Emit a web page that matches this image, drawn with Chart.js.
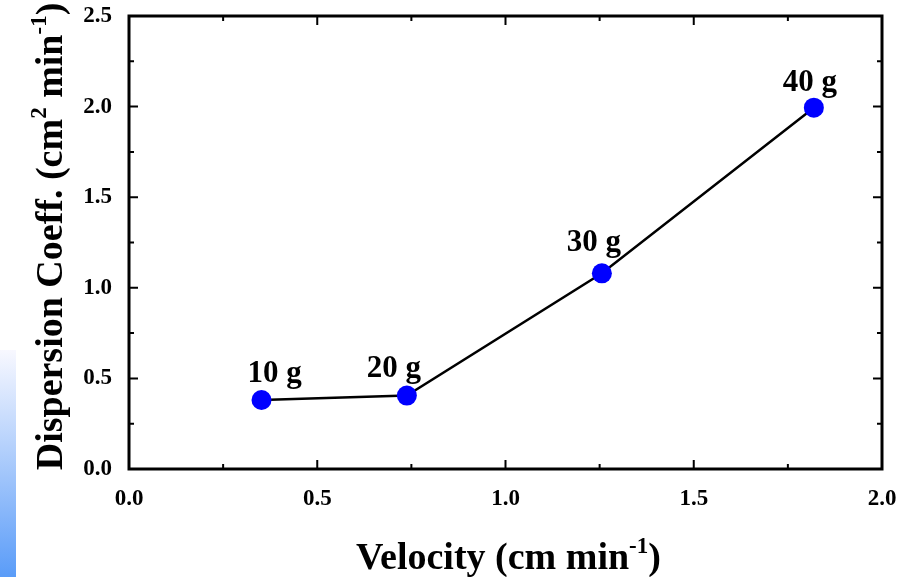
<!DOCTYPE html>
<html>
<head>
<meta charset="utf-8">
<script src="https://cdn.jsdelivr.net/npm/chart.js@4.4.0/dist/chart.umd.min.js"></script>
<style>
    html, body { margin: 0; padding: 0; background: #fff; }
    #wrap { position: relative; width: 897px; height: 577px; overflow: hidden; }
    #strip { position: absolute; left: 0; top: 350px; width: 16px; height: 227px;
             background: linear-gradient(to bottom, #f8f8ff, #5a9cf8); }
    #c { position: absolute; left: 0; top: 0; }
</style>
</head>
<body>
<div id="wrap">
    <div id="strip"></div>
    <canvas id="c" width="897" height="577"></canvas>
</div>
<script>
// data
const sampleLabels = ['10 g', '20 g', '30 g', '40 g'];
const velocity = [0.352, 0.738, 1.256, 1.819];
const dispersion = [0.381, 0.405, 1.080, 1.994];
const xTicks = [0, 0.5, 1.0, 1.5, 2.0];
const yTicks = [0, 0.5, 1.0, 1.5, 2.0, 2.5];

const serif = "'Liberation Serif', 'Times New Roman', serif";

// label placement relative to each point (px): [dx, dy]
const labelShift = [[13, -18], [-13, -19], [-8, -22], [-4, -17]];

// draw text with superscript pieces, parts = [[text, isSup], ...]
function drawRich(ctx, parts, cx, baseY, size) {
    const supSize = Math.round(size * 0.6);
    let total = 0;
    parts.forEach(p => {
        ctx.font = 'bold ' + (p[1] ? supSize : size) + 'px ' + serif;
        total += ctx.measureText(p[0]).width;
    });
    let x = cx - total / 2;
    ctx.textAlign = 'left';
    ctx.textBaseline = 'alphabetic';
    parts.forEach(p => {
        ctx.font = 'bold ' + (p[1] ? supSize : size) + 'px ' + serif;
        ctx.fillText(p[0], x, p[1] ? baseY - size * 0.42 : baseY);
        x += ctx.measureText(p[0]).width;
    });
}

const framePlugin = {
    id: 'frame',
    afterDatasetsDraw(chart) {
        const { ctx, chartArea: a, scales: { x, y } } = chart;
        ctx.save();
        ctx.strokeStyle = '#000';
        // minor + major ticks, pointing inward on all four sides
        ctx.lineWidth = 2;
        ctx.beginPath();
        for (let v = 0; v <= 2.0001; v += 0.25) {
            const px = x.getPixelForValue(v);
            const len = Math.abs(v / 0.5 - Math.round(v / 0.5)) < 1e-6 ? 9 : 5;
            ctx.moveTo(px, a.bottom); ctx.lineTo(px, a.bottom - len);
            ctx.moveTo(px, a.top); ctx.lineTo(px, a.top + len);
        }
        for (let v = 0; v <= 2.5001; v += 0.25) {
            const py = y.getPixelForValue(v);
            const len = Math.abs(v / 0.5 - Math.round(v / 0.5)) < 1e-6 ? 9 : 5;
            ctx.moveTo(a.left, py); ctx.lineTo(a.left + len, py);
            ctx.moveTo(a.right, py); ctx.lineTo(a.right - len, py);
        }
        ctx.stroke();
        ctx.lineWidth = 3;
        ctx.strokeRect(a.left, a.top, a.right - a.left, a.bottom - a.top);

        // point labels
        ctx.fillStyle = '#000';
        ctx.font = 'bold 31px ' + serif;
        ctx.textAlign = 'center';
        ctx.textBaseline = 'alphabetic';
        sampleLabels.forEach((t, i) => {
            const px = x.getPixelForValue(velocity[i]);
            const py = y.getPixelForValue(dispersion[i]);
            ctx.fillText(t, px + labelShift[i][0], py + labelShift[i][1]);
        });

        // axis titles
        drawRich(ctx, [['Velocity (cm min', false], ['-1', true], [')', false]],
                 (a.left + a.right) / 2 + 3, 569, 38);
        ctx.translate(62, (a.top + a.bottom) / 2 - 6);
        ctx.rotate(-Math.PI / 2);
        drawRich(ctx, [['Dispersion Coeff. (cm', false], ['2', true], [' min', false], ['-1', true], [')', false]],
                 0, 0, 38);
        ctx.restore();
    }
};

new Chart(document.getElementById('c'), {
    type: 'line',
    data: {
        datasets: [{
            data: velocity.map((v, i) => ({ x: v, y: dispersion[i] })),
            borderColor: '#000',
            borderWidth: 2.5,
            pointRadius: 10,
            pointHoverRadius: 10,
            pointBackgroundColor: '#0000ff',
            pointBorderWidth: 0,
            tension: 0,
            clip: false
        }]
    },
    options: {
        responsive: false,
        animation: false,
        layout: { padding: 0 },
        plugins: { legend: { display: false }, tooltip: { enabled: false } },
        scales: {
            x: {
                type: 'linear',
                min: 0, max: 2,
                afterFit: s => { s.height = 108; s.paddingLeft = 0; s.paddingRight = 15; },
                afterBuildTicks: s => { s.ticks = xTicks.map(v => ({ value: v })); },
                grid: { display: false, drawTicks: false },
                border: { display: false },
                ticks: {
                    padding: 16,
                    color: '#000',
                    font: { family: serif, size: 23, weight: 'bold' },
                    callback: v => v.toFixed(1)
                }
            },
            y: {
                min: 0, max: 2.5,
                afterFit: s => { s.width = 129; s.paddingTop = 16; s.paddingBottom = 0; },
                afterBuildTicks: s => { s.ticks = yTicks.map(v => ({ value: v })); },
                grid: { display: false, drawTicks: false },
                border: { display: false },
                ticks: {
                    padding: 17,
                    color: '#000',
                    font: { family: serif, size: 23, weight: 'bold' },
                    callback: v => v.toFixed(1)
                }
            }
        }
    },
    plugins: [framePlugin]
});
</script>
</body>
</html>
